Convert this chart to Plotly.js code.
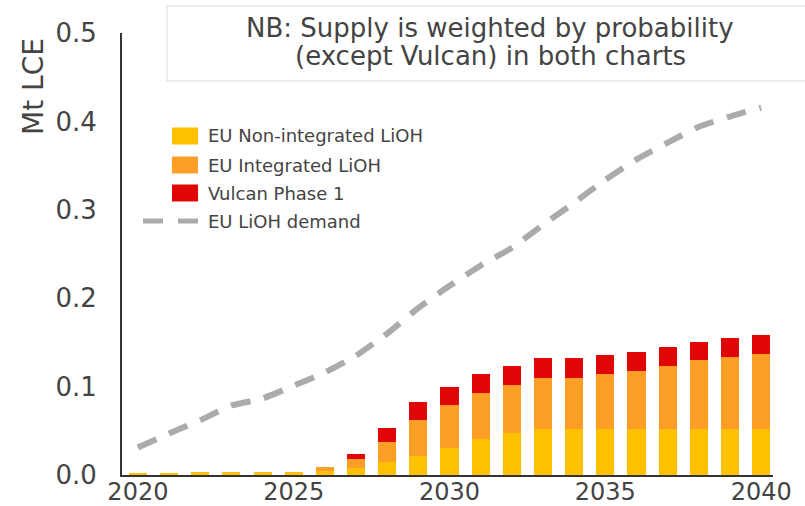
<!DOCTYPE html>
<html>
<head>
<meta charset="utf-8">
<script src="https://cdn.plot.ly/plotly-3.0.1.min.js"></script>
<style>html,body{margin:0;padding:0;background:#fff;}#chart{width:805px;height:506px;}</style>
</head>
<body>
<div id="chart"></div>
<script>
// ---- Data ----
const years = [2020,2021,2022,2023,2024,2025,2026,2027,2028,2029,2030,2031,2032,2033,2034,2035,2036,2037,2038,2039,2040];
const euNonIntegrated = [0.002,0.002,0.0035,0.0035,0.0035,0.0035,0.005,0.0076,0.0144,0.0212,0.030,0.041,0.0473,0.0526,0.0526,0.0526,0.0526,0.0526,0.0526,0.0526,0.0526];
const euIntegrated    = [0,0,0,0,0,0,0.0035,0.0102,0.0226,0.0407,0.049,0.0515,0.0547,0.0574,0.0574,0.0611,0.0654,0.0709,0.0774,0.0807,0.0841];
const vulcanPhase1    = [0,0,0,0,0,0,0,0.0056,0.0164,0.0209,0.021,0.0212,0.0215,0.0218,0.0218,0.0218,0.0213,0.0215,0.021,0.0215,0.0213];
const euDemand        = [0.031,0.047,0.062,0.0786,0.0865,0.101,0.116,0.135,0.160,0.189,0.214,0.237,0.257,0.283,0.308,0.334,0.357,0.376,0.394,0.4055,0.4157];
const seriesNames = ["EU Non-integrated LiOH","EU Integrated LiOH","Vulcan Phase 1","EU LiOH demand"];
const xTickVals = [2020,2025,2030,2035,2040];
const yTickVals = [0,0.1,0.2,0.3,0.4,0.5];
const yTickText = ["0.0","0.1","0.2","0.3","0.4","0.5"];
const noteLines = ["NB: Supply is weighted by probability","(except Vulcan) in both charts"];
const yTitle = "Mt LCE";

// ---- Styles ----
const colors = ["#FFC000","#FD9E26","#E10606","#ABABAB"];
const textColor = "#444444";
const FONT = "DejaVu Sans";

// plot area in pixels
const L = 122, R = 773, T = 33, B = 475;
const px = x => (x - L) / (R - L);
const py = y => (B - y) / (B - T);

const traces = [
  {type:"bar", name:seriesNames[0], x:years, y:euNonIntegrated, marker:{color:colors[0]}, hoverinfo:"skip"},
  {type:"bar", name:seriesNames[1], x:years, y:euIntegrated, marker:{color:colors[1]}, hoverinfo:"skip"},
  {type:"bar", name:seriesNames[2], x:years, y:vulcanPhase1, marker:{color:colors[2]}, hoverinfo:"skip"},
  {type:"scatter", mode:"lines", name:seriesNames[3], x:years, y:euDemand,
   line:{color:colors[3], width:6, dash:"20px,14px", shape:"spline", smoothing:0.4}, hoverinfo:"skip"}
];

const shapes = [
  {type:"rect", xref:"paper", yref:"paper", x0:px(167), x1:px(830), y0:py(81), y1:py(6),
   line:{color:"#e6e6e6", width:1.5}, fillcolor:"rgba(0,0,0,0)", layer:"below"}
];
const annotations = [
  {xref:"paper", yref:"paper", x:px(490), y:py(28), xanchor:"center", yanchor:"middle",
   text:noteLines[0], showarrow:false, font:{family:FONT, size:26, color:textColor}},
  {xref:"paper", yref:"paper", x:px(490), y:py(56), xanchor:"center", yanchor:"middle",
   text:noteLines[1], showarrow:false, font:{family:FONT, size:26, color:textColor}},
  {xref:"paper", yref:"paper", x:px(33), y:py(87), xanchor:"center", yanchor:"middle",
   text:yTitle, textangle:-90, showarrow:false, font:{family:FONT, size:28, color:textColor}}
];

// custom legend
const rowY = [136,165,193,221];
for (let i = 0; i < 3; i++) {
  shapes.push({type:"rect", xref:"paper", yref:"paper", x0:px(172), x1:px(198),
    y0:py(rowY[i]+8.5), y1:py(rowY[i]-8.5), line:{width:0}, fillcolor:colors[i]});
}
shapes.push({type:"line", xref:"paper", yref:"paper", x0:px(143), x1:px(198), y0:py(rowY[3]), y1:py(rowY[3]),
  line:{color:colors[3], width:5, dash:"20px,15px"}});
for (let i = 0; i < 4; i++) {
  annotations.push({xref:"paper", yref:"paper", x:px(206), y:py(rowY[i]), xanchor:"left", yanchor:"middle",
    text:seriesNames[i], showarrow:false, font:{family:FONT, size:18, color:textColor}});
}

const layout = {
  width:805, height:506,
  margin:{l:L, r:805-R, t:T, b:506-B, pad:0},
  paper_bgcolor:"#ffffff", plot_bgcolor:"#ffffff",
  barmode:"stack", bargap:0.42,
  showlegend:false,
  font:{family:FONT, color:textColor},
  xaxis:{range:[2019.49,2040.38], tickvals:xTickVals, ticktext:xTickVals.map(String),
    showline:true, linecolor:"#333333", linewidth:2, showgrid:false, zeroline:false, ticks:"",
    ticklabelstandoff:-6,
    tickfont:{family:FONT, size:24, color:textColor}, fixedrange:true},
  yaxis:{range:[0,0.5], tickvals:yTickVals, ticktext:yTickText,
    showline:true, linecolor:"#333333", linewidth:2, showgrid:false, zeroline:false, ticks:"",
    ticklabelstandoff:18,
    tickfont:{family:FONT, size:26, color:textColor}, fixedrange:true},
  shapes:shapes,
  annotations:annotations
};

Plotly.newPlot("chart", traces, layout, {displayModeBar:false, staticPlot:true});
</script>
</body>
</html>
